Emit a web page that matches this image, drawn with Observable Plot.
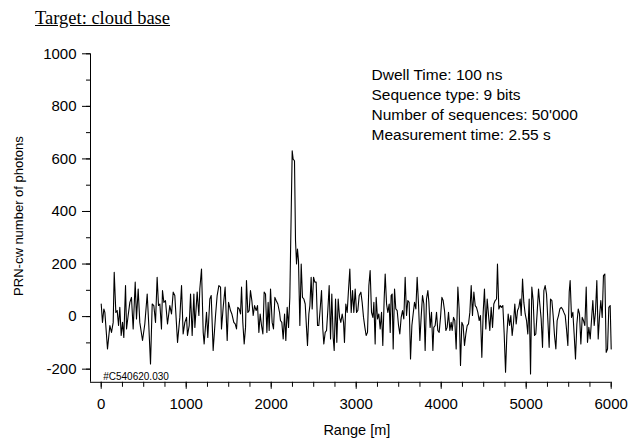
<!DOCTYPE html>
<html><head><meta charset="utf-8">
<script src="https://cdn.jsdelivr.net/npm/d3@7"></script>
<script src="https://cdn.jsdelivr.net/npm/@observablehq/plot@0.6"></script>
<style>
html,body{margin:0;padding:0;background:#fff;}
#wrap{position:relative;width:631px;height:439px;overflow:hidden;background:#fff;}
#title{position:absolute;left:35px;top:6px;font-family:"Liberation Serif","Times New Roman",serif;font-size:18.5px;line-height:24px;text-decoration:underline;color:#000;white-space:nowrap;}
#chart{position:absolute;left:0;top:0;}
</style></head>
<body><div id="wrap"><div id="chart"></div><div id="title"></div></div>
<script>
// ---- text ----
const titleText = "Target: cloud base";
const xLabel = "Range [m]";
const yLabel = "PRN-cw number of photons";
const fileTag = "#C540620.030";
const infoLines = ["Dwell Time: 100 ns", "Sequence type: 9 bits", "Number of sequences: 50'000", "Measurement time: 2.55 s"];

// ---- ticks ----
const xTicks = [0, 1000, 2000, 3000, 4000, 5000, 6000];
const xMinorTicks = [0, 250, 500, 750, 1000, 1250, 1500, 1750, 2000, 2250, 2500, 2750, 3000, 3250, 3500, 3750, 4000, 4250, 4500, 4750, 5000, 5250, 5500, 5750, 6000];
const yTicks = [-200, 0, 200, 400, 600, 800, 1000];
const yMinorTicks = [-200, -100, 0, 100, 200, 300, 400, 500, 600, 700, 800, 900, 1000];

// ---- series: range [m] and PRN-cw photon counts ----
const rangeM = [
  0,15,31,43,74,102,121,141,153,172,188,204,219,235,251,266,286,298,317,337,356,376,400,415,435,454,486,513,541,560,
  580,600,619,639,658,674,690,709,721,737,756,780,807,827,847,866,898,925,945,964,984,1004,1015,1035,1051,1070,1090,1102,1129,1149,
  1160,1180,1200,1211,1239,1254,1278,1294,1317,1345,1364,1384,1404,1415,1435,
  1458,1482,1498,1521,1537,1560,1576,1592,1607,1623,1639,1651,1666,1682,1698,1709,1725,1741,1756,1772,1788,1804,1823,1839,1855,
  1870,1886,1902,1917,1933,1949,1964,1976,1992,2011,2027,2043,2058,2078,2098,2109,2125,2141,2157,2172,2188,2204,2219,2247,2258,
  2274,2286,2298,2309,2321,2337,2353,2368,2384,2400,2415,2427,2443,2455,2470,2482,2498,2513,2529,2545,2560,2576,2592,2607,2619,
  2635,2651,2666,2682,2698,2713,2729,2741,2757,2772,2788,2804,2819,2835,2851,2862,2878,2894,2909,2925,2941,
  2957,2972,2988,3004,3019,3035,3055,3070,3086,3102,3117,3133,3149,3164,3180,3196,3208,3223,3235,3251,3266,3282,3298,3313,3329,
  3341,3357,3372,3388,3400,3411,3423,3435,3451,3466,3482,3498,3513,3529,3545,3560,3576,3592,3607,3623,3639,3655,3670,3686,3702,
  3717,3733,3749,3764,3780,3796,3811,3827,3843,3855,3870,3886,3902,3913,3929,3945,3960,3976,3992,4008,4023,4039,4055,4070,4086,
  4102,4117,4129,4145,4160,4176,4196,4211,4227,4243,4258,4274,4290,4306,4321,4337,4353,4368,4384,4400,4415,4431,4447,4462,4478,
  4494,4509,4525,4541,4557,4572,4588,4604,4619,4635,4651,4662,4678,4694,4709,4725,4741,4757,4772,4788,4804,4819,4835,4851,4866,
  4882,4898,4913,4929,4941,4957,4972,4988,5004,5019,5035,5051,5066,5082,5098,5113,5129,5145,5160,5176,5192,5208,5223,5239,5255,
  5270,5286,5302,5317,5333,5349,5364,5380,5396,5412,5427,5443,5459,5474,5490,5506,5517,5533,5549,5564,5580,5596,5612,5627,5643,
  5659,5674,5690,5706,5721,5737,5753,5768,5784,5800,5815,5831,5847,5862,5878,5894,5909,5925,5941,5957,5972,5988,6000
];
const photons = [
  48,-22,29,16,-123,-34,-60,-22,169,16,23,-34,35,-72,-22,-79,118,-47,4,54,73,-47,131,-9,105,-22,-91,-28,86,-34,
  -180,48,42,-22,150,42,48,-47,99,54,61,-28,42,10,93,80,-98,-3,118,-66,-22,-3,-72,-34,86,-72,86,-41,93,4,
  105,181,-60,-104,16,-79,67,80,-129,4,80,118,112,-47,35,
  112,-91,54,23,10,-22,-28,-47,35,29,10,112,-22,-104,-41,137,16,23,99,61,4,42,23,42,-60,
  10,-34,-66,93,86,-60,54,-53,105,-22,-47,73,61,48,16,-15,-22,-85,10,-91,35,-41,73,631,599,
  593,289,200,257,213,-34,200,73,67,48,-41,-110,10,42,150,29,150,131,131,-34,-34,29,99,-47,-104,
  -60,-53,23,118,-85,86,-79,-129,67,-98,67,-3,-22,10,-22,-98,48,16,99,181,16,
  99,16,105,16,23,80,93,54,-3,-41,-72,-60,118,175,16,-3,54,-104,73,-9,10,-47,16,-110,67,
  162,48,16,48,-60,80,86,-123,105,29,23,-34,-66,-3,23,-9,150,4,61,54,-161,-34,10,54,29,
  150,48,-91,-3,80,48,-129,67,99,54,-41,16,-129,-41,-34,16,-53,-60,-3,73,61,23,-53,-41,16,
  -53,-22,-53,-3,-15,-123,112,29,-186,-22,-34,-110,-66,-34,-28,16,118,4,93,42,35,16,-15,4,-155,
  16,105,-47,67,4,-53,35,-41,48,61,67,200,29,42,35,42,-66,-212,-72,10,-34,4,-72,-22,48,
  -28,23,35,67,4,143,54,10,-15,-66,67,-218,112,61,-72,-66,16,105,48,-9,-117,99,118,86,-15,
  -117,67,61,4,-72,-123,-15,4,29,35,29,16,4,-47,-110,93,137,-3,16,-66,-161,-28,29,10,-104,
  -3,-15,-34,112,-98,-41,-85,-15,61,-34,16,137,-85,-3,61,-3,156,162,-136,-123,35,42,-123
];

const xDomain = [-126, 6000];
const yDomain = [-250, 1000];

const data = rangeM.map((r, i) => ({range: r, count: photons[i]}));

document.getElementById("title").textContent = titleText;

const font = "'Liberation Sans', Arial, Helvetica, sans-serif";
const chart = Plot.plot({
  width: 631,
  height: 439,
  marginLeft: 90,
  marginRight: 20.3,
  marginTop: 53.3,
  marginBottom: 57.2,
  x: {domain: xDomain},
  y: {domain: yDomain},
  style: {fontFamily: font, fontSize: "15px", color: "#000", background: "#fff"},
  marks: [
    Plot.ruleX([xDomain[0]], {y1: yDomain[0], y2: yDomain[1], stroke: "#000", strokeWidth: 1}),
    Plot.ruleY([yDomain[0]], {x1: xDomain[0], x2: xDomain[1], stroke: "#000", strokeWidth: 1}),
    Plot.axisY({ticks: yMinorTicks, tickSize: 4, tickFormat: () => "", label: null, stroke: "#000"}),
    Plot.axisY({ticks: yTicks, tickSize: 8, tickPadding: 6, fontSize: 15, label: null, stroke: "#000", fill: "#000", tickFormat: d => String(d)}),
    Plot.axisX({ticks: xMinorTicks, tickSize: 5, tickFormat: () => "", label: null, stroke: "#000"}),
    Plot.axisX({ticks: xTicks, tickSize: 7, tickPadding: 9, fontSize: 15, label: null, stroke: "#000", fill: "#000", tickFormat: d => String(d)}),
    Plot.line(data, {x: "range", y: "count", stroke: "#000", strokeWidth: 1.1}),
    Plot.text([fileTag], {frameAnchor: "bottom-left", dx: 12.7, dy: -5.3, textAnchor: "start", lineAnchor: "middle", fontSize: 10, fill: "#000"}),
    Plot.text([infoLines.join("\n")], {frameAnchor: "top-left", dx: 281, dy: 12.5, textAnchor: "start", lineAnchor: "top", lineHeight: 20 / 15.5, fontSize: 15.5, fill: "#000"}),
    Plot.text([xLabel], {frameAnchor: "bottom", dx: 6, dy: 48, textAnchor: "middle", lineAnchor: "middle", fontSize: 14.5, fill: "#000"}),
    Plot.text([yLabel], {frameAnchor: "left", dx: -72, dy: -2, rotate: -90, textAnchor: "middle", lineAnchor: "middle", fontSize: 13, fill: "#000"})
  ]
});
document.getElementById("chart").appendChild(chart);
</script>
</body></html>
